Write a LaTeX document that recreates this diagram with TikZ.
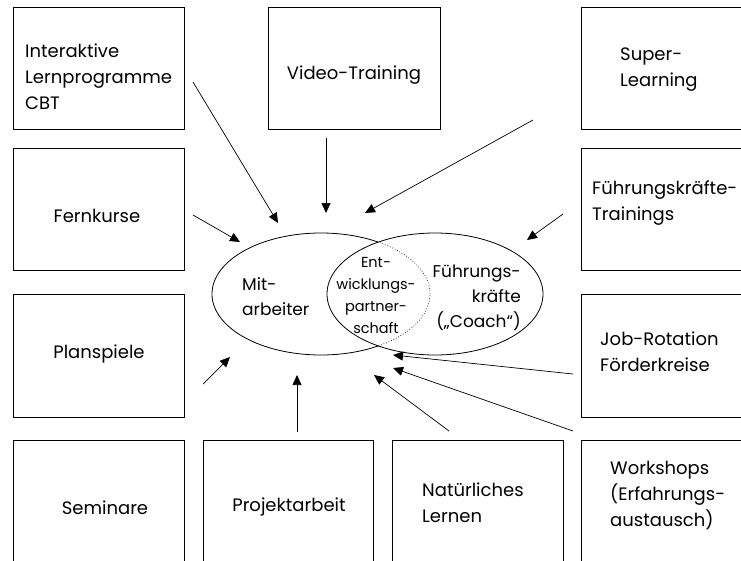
\documentclass[tikz,border=0pt]{standalone}
\usepackage{fontspec}
\setmainfont{Poppins}
\usetikzlibrary{arrows.meta,shapes.geometric}
\begin{document}
\begin{tikzpicture}[x=1pt,y=-1pt,
  box/.style={draw, line width=0.9pt, minimum width=171pt, minimum height=122pt, anchor=north west, inner sep=0pt},
  lbl/.style={font=\fontsize{18}{26}\selectfont, align=left, inner sep=0pt},
  elbl/.style={font=\fontsize{17}{25}\selectfont, inner sep=0pt},
  slbl/.style={font=\fontsize{14.5}{22}\selectfont, align=center, inner sep=0pt},
  arr/.style={line width=0.7pt, -{Triangle[length=10pt,width=9pt]}},
  ell/.style={draw, ellipse, line width=0.8pt, inner sep=0pt},
]
\clip (0,0) rectangle (741,560);
% boxes
\node[box] (b1) at (13,7) {};
\node[box, minimum width=172pt] (b2) at (268,7) {};
\node[box] (b3) at (581,7) {};
\node[box] (b4) at (13,148) {};
\node[box] (b5) at (581,148) {};
\node[box, minimum height=123pt] (b6) at (13,294) {};
\node[box, minimum height=123pt] (b7) at (581,294) {};
\node[box] (b8) at (13,440) {};
\node[box, minimum width=170pt] (b9) at (203,440) {};
\node[box] (b10) at (392,440) {};
\node[box] (b11) at (581,440) {};
% box texts
\node[lbl, anchor=west] (t1) at (25,77) {Interaktive\\Lernprogramme\\CBT};
\node[lbl] (t2) at (354,75) {Video-Training};
\node[lbl, anchor=west] (t3) at (620,70) {Super-\\Learning};
\node[lbl] (t4) at (97,216) {Fernkurse};
\node[lbl, anchor=west] (t5) at (592,203) {Führungskräfte-\\Trainings};
\node[lbl] (t6) at (99,354) {Planspiele};
\node[lbl, anchor=west] (t7) at (600,352) {Job-Rotation\\Förderkreise};
\node[lbl] (t8) at (105,508) {Seminare};
\node[lbl] (t9) at (289,507) {Projektarbeit};
\node[lbl, anchor=west] (t10) at (422,503) {Natürliches\\Lernen};
\node[lbl, anchor=west] (t11) at (610,496) {Workshops\\(Erfahrungs-\\austausch)};
% ellipses
\node[ell, minimum width=216pt, minimum height=122pt] (fk) at (435,294) {};
\node[ell, draw=none, minimum width=218pt, minimum height=122pt] (ma) at (321,294) {};
\begin{scope}
  \clip (0,0) rectangle (378,560);
  \draw[line width=0.8pt] (ma.center) ellipse [x radius=109pt, y radius=61pt];
\end{scope}
\begin{scope}
  \clip (378,0) rectangle (741,560);
  \draw[line width=0.7pt, dotted] (ma.center) ellipse [x radius=109pt, y radius=61pt];
\end{scope}
\node[elbl, align=left, anchor=west] (e1) at (242,297) {Mit-\\arbeiter};
\node[slbl] (e2) at (376,295) {Ent-\\wicklungs-\\partner-\\schaft};
\node[elbl, align=right, anchor=east] (e3) at (521,298) {Führungs-\\kräfte\\(„Coach“)};
% arrows
\coordinate (s1) at (193,82);  \coordinate (h1) at (278,223);
\coordinate (s2) at (326,138); \coordinate (h2) at (326,213);
\coordinate (s3) at (533,120); \coordinate (h3) at (365,213);
\coordinate (s4) at (193,215); \coordinate (h4) at (240,242);
\coordinate (s5) at (563,214); \coordinate (h5) at (527,240);
\coordinate (s6) at (203,384); \coordinate (h6) at (230,357);
\coordinate (s7) at (297,432); \coordinate (h7) at (297,375);
\coordinate (s8) at (449,431); \coordinate (h8) at (374,375);
\coordinate (s9) at (573,374); \coordinate (h9) at (393,355);
\coordinate (s10) at (573,431); \coordinate (h10) at (393,368);
\foreach \i in {1,...,10} {\draw[arr] (s\i) -- (h\i);}
\end{tikzpicture}
\end{document}
